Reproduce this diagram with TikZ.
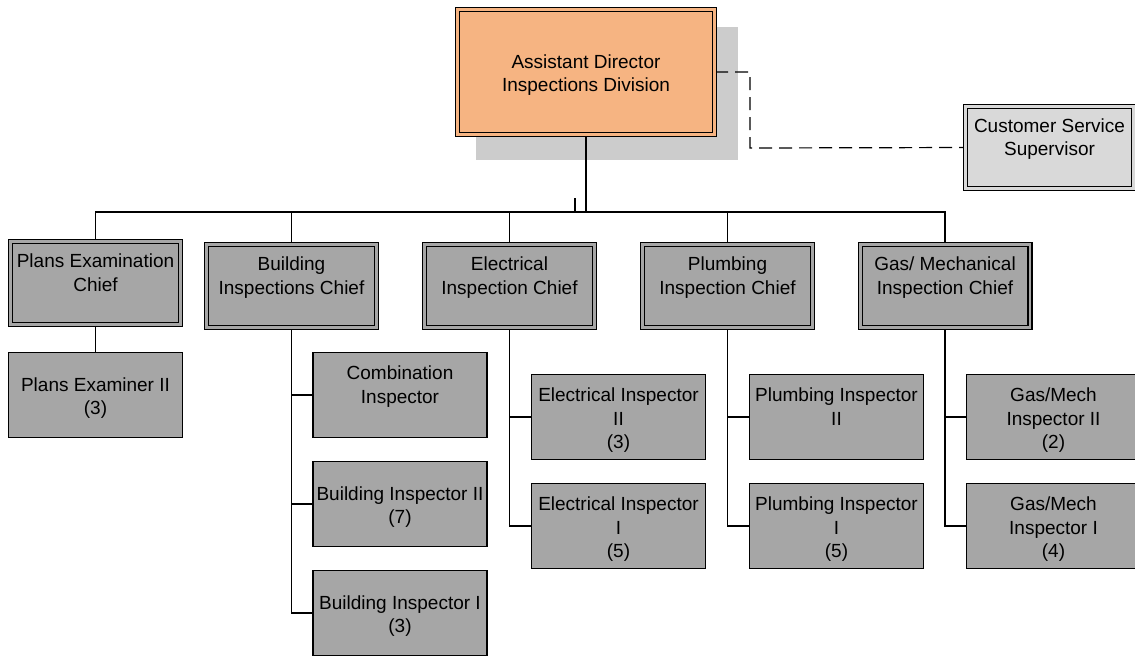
\documentclass[tikz,border=0pt]{standalone}
\usepackage{fontspec}
\setmainfont{Liberation Sans}
\usepackage{tikz}
\usetikzlibrary{backgrounds}
\definecolor{directorOrange}{RGB}{246,180,130}
\definecolor{unitGray}{RGB}{166,166,166}
\definecolor{serviceGray}{RGB}{217,217,217}
\definecolor{shadowGray}{RGB}{204,204,204}
% first line of a box sits a little lower than plain centring would put it
\newcommand\toprule{\rule{0pt}{11.7pt}}
\tikzset{
	box/.style={draw=black, line width=0.6pt, align=center, inner sep=1pt,
		font=\fontsize{9.5}{11.7}\selectfont,
		execute at end node={\rule[-3.5pt]{0pt}{0pt}}},
	director/.style={box, double=directorOrange, double distance=1.4pt, fill=directorOrange,
		minimum width=128.4pt, minimum height=62.4pt},
	service/.style={box, double=serviceGray, double distance=1.4pt, fill=serviceGray,
		minimum width=83.9pt, minimum height=40.9pt},
	chief/.style={box, double=unitGray, double distance=1.4pt, fill=unitGray,
		minimum width=84.9pt, minimum height=41.4pt},
	staff/.style={box, fill=unitGray, minimum width=87pt, minimum height=42.5pt},
	link/.style={line width=0.6pt},
	dotted link/.style={line width=0.6pt, dash pattern=on 6.5pt off 3.5pt},
}

\begin{document}
\begin{tikzpicture}[x=0.5pt, y=-0.5pt]
	\useasboundingbox (0,0) rectangle (1135,655);

	% top of the chart
	\node[director] (dir) at (586,72) {\toprule Assistant Director\\Inspections Division};
	\node[service] (css) at (1049.5,147.5) {\toprule Customer Service\\Supervisor\\};

	% division chiefs
	\node[chief] (plans) at (95.5,283) {\toprule Plans Examination\\Chief\\};
	\node[chief] (bldg) at (291.5,286) {\toprule Building\\Inspections Chief\\};
	\node[chief] (elec) at (509.5,286) {\toprule Electrical\\Inspection Chief\\};
	\node[chief] (plmb) at (727.5,286) {\toprule Plumbing\\Inspection Chief\\};
	\node[chief] (gas) at (945,286) {\toprule Gas/ Mechanical\\Inspection Chief\\};

	% staff under each chief
	\node[staff] (pe2) at (95.5,395) {\toprule Plans Examiner II\\(3)};
	\node[staff] (comb) at (400,395) {\toprule Combination\\Inspector\\};
	\node[staff] (bi2) at (400,504) {\toprule Building Inspector II\\(7)};
	\node[staff] (bi1) at (400,613) {\toprule Building Inspector I\\(3)};
	\node[staff] (ei2) at (618.5,417) {\toprule Electrical Inspector\\II\\(3)};
	\node[staff] (ei1) at (618.5,526) {\toprule Electrical Inspector\\I\\(5)};
	\node[staff] (pi2) at (836.5,417) {\toprule Plumbing Inspector\\II\\};
	\node[staff] (pi1) at (836.5,526) {\toprule Plumbing Inspector\\I\\(5)};
	\node[staff] (gi2) at (1053.5,417) {\toprule Gas/Mech\\Inspector II\\(2)};
	\node[staff] (gi1) at (1053.5,526) {\toprule Gas/Mech\\Inspector I\\(4)};

	\coordinate (bus) at (586,212);
	\coordinate (bend) at (750,148);
	\coordinate (stub) at (575,198);

	\begin{scope}[on background layer]
		\fill[shadowGray] (476,27) rectangle (738,160);

		\draw[link] (dir.south) -- (bus);
		\draw[link] (stub) -- (stub |- bus);
		\draw[dotted link] (dir.east) -| (bend) -- (css.west);

		\draw[link] (plans.north) |- (bus);
		\draw[link] (bldg.north) |- (bus);
		\draw[link] (elec.north) |- (bus);
		\draw[link] (plmb.north) |- (bus);
		\draw[link] (gas.north) |- (bus);

		\draw[link] (plans.south) -- (pe2.north);
		\draw[link] (bldg.south) |- (comb.west);
		\draw[link] (bldg.south) |- (bi2.west);
		\draw[link] (bldg.south) |- (bi1.west);
		\draw[link] (elec.south) |- (ei2.west);
		\draw[link] (elec.south) |- (ei1.west);
		\draw[link] (plmb.south) |- (pi2.west);
		\draw[link] (plmb.south) |- (pi1.west);
		\draw[link] (gas.south) |- (gi2.west);
		\draw[link] (gas.south) |- (gi1.west);
	\end{scope}
\end{tikzpicture}
\end{document}
